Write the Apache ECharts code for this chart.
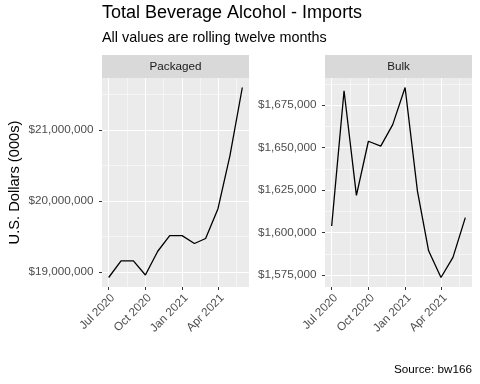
<!DOCTYPE html>
<html>
<head>
<meta charset="utf-8">
<script src="https://cdn.jsdelivr.net/npm/echarts@6/dist/echarts.min.js"></script>
<style>
html,body{margin:0;padding:0;background:#fff;}
#c{width:480px;height:384px;}
</style>
</head>
<body>
<div id="c"></div>
<script>
// ---- data ----
const months = ['2020-07-01','2020-08-01','2020-09-01','2020-10-01','2020-11-01','2020-12-01',
                '2021-01-01','2021-02-01','2021-03-01','2021-04-01','2021-05-01','2021-06-01'];
const packaged = [18920000, 19155000, 19155000, 18955000, 19290000, 19510000,
                  19510000, 19400000, 19470000, 19890000, 20640000, 21600000];
const bulk = [1603900, 1683400, 1621900, 1653700, 1650800, 1663500,
              1685300, 1624400, 1589300, 1573600, 1585400, 1608800];
const xTickDates = ['2020-07-01','2020-10-01','2021-01-01','2021-04-01'];
const xTickLabels = ['Jul 2020','Oct 2020','Jan 2021','Apr 2021'];
const packagedTicks = [19000000, 20000000, 21000000];
const bulkTicks = [1575000, 1600000, 1625000, 1650000, 1675000];
const panelNames = ['Packaged', 'Bulk'];

// ---- helpers ----
const ts = s => Date.parse(s + 'T00:00:00Z');
const xs = months.map(ts);
const xTicks = xTickDates.map(ts);
function expand(arr) {
  const lo = Math.min(...arr), hi = Math.max(...arr), d = (hi - lo) * 0.05;
  return [lo - d, hi + d];
}
function minors(ticks, range) {
  const out = [];
  const n = ticks.length;
  const all = [ticks[0] - (ticks[1] - ticks[0])].concat(ticks).concat([ticks[n - 1] + (ticks[n - 1] - ticks[n - 2])]);
  for (let i = 0; i < all.length - 1; i++) {
    const m = (all[i] + all[i + 1]) / 2;
    if (m > range[0] && m < range[1]) out.push(m);
  }
  return out;
}
function commas(v) {
  return '$' + String(Math.round(v)).replace(/\B(?=(\d{3})+(?!\d))/g, ',');
}
const xRange = expand(xs);
const xMinor = minors(xTicks, xRange);
const yRanges = [expand(packaged), expand(bulk)];
const yTicksArr = [packagedTicks, bulkTicks];

const FONT = 'Liberation Sans, Arial, sans-serif';
const grids = [
  {left: 102, top: 78, width: 147, height: 209, backgroundColor: '#EBEBEB', show: true, borderWidth: 0},
  {left: 325, top: 78, width: 147, height: 209, backgroundColor: '#EBEBEB', show: true, borderWidth: 0}
];
const xAxis = [], yAxis = [], series = [];
[packaged, bulk].forEach((vals, g) => {
  xAxis.push({
    type: 'value', gridIndex: g, min: xRange[0], max: xRange[1], position: 'bottom',
    axisLine: {show: false},
    axisTick: {show: true, length: 3, lineStyle: {color: '#333333', width: 1}, customValues: xTicks},
    axisLabel: {show: true, customValues: xTicks, rotate: 45, margin: 5, color: '#4D4D4D',
      fontSize: 11.7, fontFamily: FONT, align: 'right', verticalAlign: 'top',
      formatter: v => xTickLabels[xTicks.indexOf(v)] || ''},
    splitLine: {show: true, lineStyle: {color: '#FFFFFF', width: 1}},
    z: 3
  });
  xAxis.push({
    type: 'value', gridIndex: g, min: xRange[0], max: xRange[1], position: 'top',
    axisLine: {show: false},
    axisTick: {show: false, customValues: xMinor},
    axisLabel: {show: false, customValues: xMinor},
    splitLine: {show: true, lineStyle: {color: '#FFFFFF', width: 0.5}},
    z: 2
  });
  const yr = yRanges[g], yt = yTicksArr[g], ym = minors(yt, yr);
  yAxis.push({
    type: 'value', gridIndex: g, min: yr[0], max: yr[1], position: 'left',
    axisLine: {show: false},
    axisTick: {show: true, length: 3, lineStyle: {color: '#333333', width: 1}, customValues: yt},
    axisLabel: {show: true, customValues: yt, margin: 8.5, color: '#4D4D4D', fontSize: 11.7,
      fontFamily: FONT, formatter: v => commas(v)},
    splitLine: {show: true, lineStyle: {color: '#FFFFFF', width: 1}},
    z: 3
  });
  yAxis.push({
    type: 'value', gridIndex: g, min: yr[0], max: yr[1], position: 'right',
    axisLine: {show: false},
    axisTick: {show: false, customValues: ym},
    axisLabel: {show: false, customValues: ym},
    splitLine: {show: true, lineStyle: {color: '#FFFFFF', width: 0.5}},
    z: 2
  });
  series.push({
    type: 'line', xAxisIndex: g * 2, yAxisIndex: g * 2,
    data: xs.map((x, i) => [x, vals[i]]),
    showSymbol: false, symbol: 'none', silent: true, animation: false,
    lineStyle: {color: '#000000', width: 1.3}, z: 5
  });
});

const graphic = [];
grids.forEach((gd, g) => {
  graphic.push({type: 'rect', left: gd.left, top: 55, shape: {width: gd.width, height: 23},
    style: {fill: '#D9D9D9'}, silent: true});
  graphic.push({type: 'text', x: gd.left + gd.width / 2, y: 66.5,
    style: {text: panelNames[g], fill: '#1A1A1A', font: '11.7px ' + FONT, align: 'center', verticalAlign: 'middle'}});
});
graphic.push({type: 'text', x: 102, y: 12.7,
  style: {text: 'Total Beverage Alcohol - Imports', fill: '#000000', font: '18px ' + FONT, align: 'left', verticalAlign: 'middle'}});
graphic.push({type: 'text', x: 102, y: 37.7,
  style: {text: 'All values are rolling twelve months', fill: '#000000', font: '14.4px ' + FONT, align: 'left', verticalAlign: 'middle'}});
graphic.push({type: 'text', x: 472, y: 369.9,
  style: {text: 'Source: bw166', fill: '#000000', font: '11.7px ' + FONT, align: 'right', verticalAlign: 'middle'}});
graphic.push({type: 'text', x: 15.4, y: 182.5, rotation: Math.PI / 2,
  style: {text: 'U.S. Dollars (000s)', fill: '#000000', font: '14.67px ' + FONT, align: 'center', verticalAlign: 'middle'}});

const chart = echarts.init(document.getElementById('c'), null, {renderer: 'canvas'});
chart.setOption({
  animation: false,
  backgroundColor: '#FFFFFF',
  grid: grids, xAxis, yAxis, series, graphic
});
</script>
</body>
</html>
